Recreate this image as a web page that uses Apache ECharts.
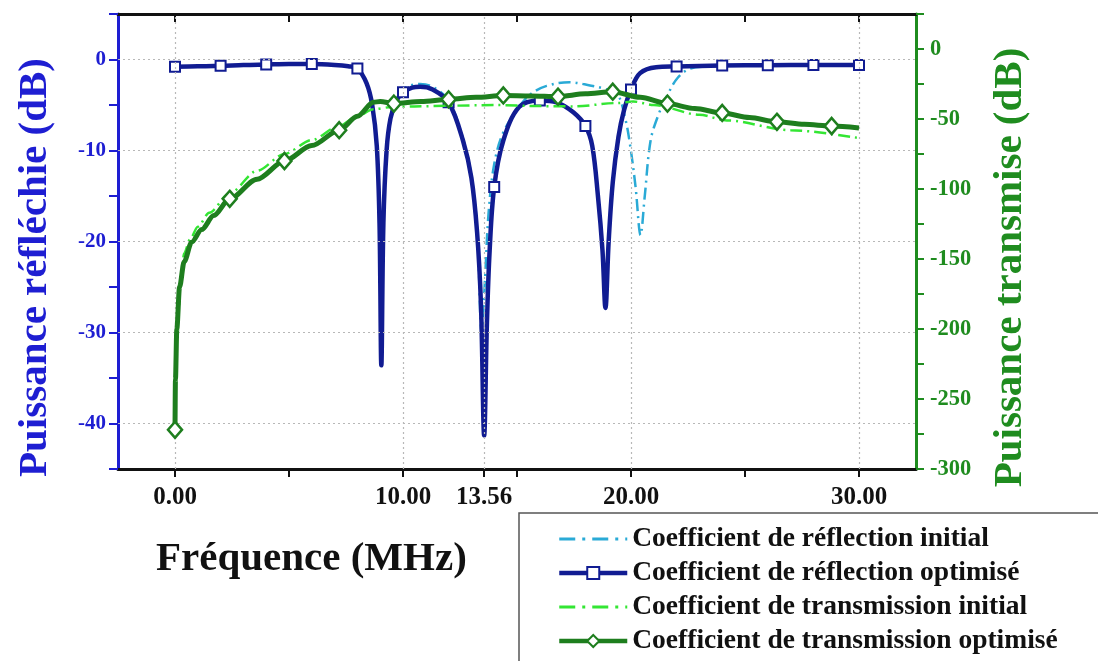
<!DOCTYPE html>
<html>
<head>
<meta charset="utf-8">
<script src="https://cdn.jsdelivr.net/npm/echarts@6/dist/echarts.min.js"></script>
<style>
html, body { margin: 0; padding: 0; background: #fff; }
#main { width: 1098px; height: 661px; }
</style>
</head>
<body>
<div id="main"></div>
<script>
// frequency (MHz) / level (dB)
var reflInitial = [
	[0, -0.8], [1, -0.75], [2, -0.7], [3, -0.6], [4, -0.55], [5, -0.5], [6, -0.5], [7, -0.6], [7.6, -0.75],
	[8, -1.0], [8.4, -2.6], [8.65, -5], [8.85, -9.5], [8.97, -18], [9.05, -33], [9.14, -18], [9.28, -10],
	[9.45, -6.3], [9.7, -4.4], [10, -3.3], [10.4, -2.8], [10.75, -2.7], [11.3, -3.0], [12, -4.5],
	[12.63, -8.7], [13.0, -12.8], [13.25, -18.5], [13.45, -30], [13.6, -24], [13.75, -17], [14, -11.5],
	[14.4, -8.0], [15.1, -5.2], [15.6, -3.8], [16.3, -2.9], [17.3, -2.5], [18.2, -2.85], [18.8, -3.2],
	[19.4, -3.8], [19.74, -6.4], [19.96, -9.4], [20.2, -14], [20.42, -19.3], [20.6, -15.1], [20.86, -8.9],
	[21.2, -6.1], [21.6, -3.9], [22.05, -2.0], [22.6, -1.0], [23.5, -0.75], [24, -0.65], [26, -0.62],
	[28, -0.6], [30, -0.6]
];
var reflOptimized = [
	[0, -0.8], [1, -0.75], [2, -0.7], [3, -0.6], [4, -0.55], [5, -0.5], [6, -0.5], [7, -0.6], [7.6, -0.75],
	[8, -1.0], [8.4, -2.6], [8.65, -5], [8.85, -9.5], [8.97, -18], [9.05, -33.6], [9.14, -18], [9.28, -10],
	[9.45, -6.5], [9.7, -4.6], [10, -3.6], [10.4, -3.1], [10.75, -3.0], [11.3, -3.3], [12, -4.7],
	[12.63, -8.9], [13.0, -13], [13.25, -19], [13.42, -27], [13.56, -41.3], [13.68, -29], [13.8, -21],
	[14, -14], [14.4, -8.9], [15.1, -5.2], [16, -4.5], [16.74, -4.7], [17.47, -5.8], [18, -7.3], [18.3, -9.5],
	[18.55, -15], [18.75, -21], [18.88, -27.3], [19.02, -20], [19.2, -13.5], [19.45, -8.5], [19.7, -5.5],
	[20, -3.3], [20.4, -1.5], [21.1, -0.85], [22, -0.77], [24, -0.65], [26, -0.62], [28, -0.6], [30, -0.6]
];
var transInitial = [
	[0.18, -183], [0.22, -170], [0.29, -158], [0.4, -146], [0.66, -136], [1.0, -127], [1.5, -117],
	[2.4, -103], [3.6, -87], [4.8, -75], [6.0, -65], [7.2, -55], [8.0, -48], [8.7, -43], [9.5, -41.5],
	[10.5, -41], [12, -40.5], [14, -40], [16, -40.8], [17.5, -41], [19.4, -38.6], [20.1, -37.5], [21, -40],
	[23, -47], [24.2, -51], [27, -58], [30, -63.6]
];
var transOptimized = [
	[0, -272], [0.02, -236], [0.08, -200], [0.2, -170], [0.4, -152], [0.73, -138], [1.17, -129],
	[1.7, -119], [2.4, -107], [3.6, -93], [4.8, -80], [6.0, -69], [7.2, -58], [8.0, -48], [8.7, -38],
	[9.0, -37.5], [9.6, -39], [10.8, -37.5], [12.0, -36], [13.2, -34.5], [14.4, -33.2], [15.6, -33.5],
	[16.8, -34], [18.0, -32], [19.2, -30.5], [20.4, -34.5], [21.6, -39], [22.8, -42.5], [24.0, -45.7],
	[25.2, -49], [26.4, -52], [27.6, -53.8], [28.8, -55], [30.0, -56.4]
];
var reflMarks = [0, 2, 4, 6, 8, 10, 12, 14, 16, 18, 20, 22, 24, 26, 28, 30];
var transMarks = [0, 2.4, 4.8, 7.2, 9.6, 12.0, 14.4, 16.8, 19.2, 21.6, 24.0, 26.4, 28.8];

var xLabels = [0, 10, 13.56, 20, 30];
var xTicks = [0, 5, 10, 13.56, 15, 20, 25, 30];
var xTopTicks = [0, 5, 10, 15, 20, 25, 30];
var leftLabels = [0, -10, -20, -30, -40];
var leftTicks = [5, 0, -5, -10, -15, -20, -25, -30, -35, -40, -45];
var rightLabels = [0, -50, -100, -150, -200, -250, -300];
var rightTicks = [25, 0, -25, -50, -75, -100, -125, -150, -175, -200, -225, -250, -275, -300];

var names = ['Coefficient de réflection initial', 'Coefficient de réflection optimisé',
	'Coefficient de transmission initial', 'Coefficient de transmission optimisé'];

var serif = '"Liberation Serif", "Times New Roman", serif';
var navy = '#111c92';
var cyan = '#2aaad6';
var lime = '#33e633';
var dgreen = '#1e7e1e';
var axisBlue = '#1e1ed2';
var axisGreen = '#1f8c1f';
var dashDot = [12, 5, 2, 5];
var legendDash = [16, 7, 3, 7];

function withMarks(pairs, marks) {
	return pairs.map(function(p) {
		if (marks.indexOf(p[0]) >= 0) return { value: p };
		return { value: p, symbol: 'none' };
	});
}

var myChart = echarts.init(document.getElementById('main'));
var option = {
	animation: false,
	title: {
		text: 'Fréquence (MHz)',
		left: 156,
		top: 539,
		padding: 0,
		textStyle: { fontFamily: serif, fontWeight: 'bold', fontSize: 41, color: '#111' }
	},
	legend: {
		data: [
			{ name: names[0], itemStyle: { opacity: 0 }, lineStyle: { width: 3, type: legendDash } },
			{ name: names[1], lineStyle: { width: 4.5 } },
			{ name: names[2], itemStyle: { opacity: 0 }, lineStyle: { width: 3, type: legendDash } },
			{ name: names[3], lineStyle: { width: 4.5 } }
		],
		orient: 'vertical',
		left: 557,
		top: 524,
		height: 160,
		itemWidth: 68,
		itemHeight: 15,
		itemGap: 4,
		itemTextGap: 6,
		padding: 0,
		z: 5,
		textStyle: { fontFamily: serif, fontWeight: 'bold', fontSize: 27.5, lineHeight: 30, color: '#111' }
	},
	graphic: [{
		type: 'rect',
		z: 0,
		shape: { x: 519, y: 513, width: 620, height: 200 },
		style: { fill: '#fff', stroke: '#555', lineWidth: 1.5 }
	}],
	grid: { left: 118, right: 182, top: 14, bottom: 192 },
	xAxis: [{
		type: 'value',
		min: -2.5,
		max: 32.5,
		position: 'bottom',
		axisLine: { onZero: false, lineStyle: { color: '#111', width: 3 } },
		axisTick: { customValues: xTicks, length: 8, lineStyle: { color: '#111', width: 2 } },
		axisLabel: {
			customValues: xLabels,
			margin: 16,
			color: '#111',
			fontFamily: serif,
			fontWeight: 'bold',
			fontSize: 25,
			formatter: function(v) { return v.toFixed(2); }
		},
		splitLine: { show: false }
	}, {
		type: 'value',
		min: -2.5,
		max: 32.5,
		position: 'top',
		axisLine: { onZero: false, lineStyle: { color: '#111', width: 3 } },
		axisTick: { customValues: xTopTicks, inside: true, length: 8, lineStyle: { color: '#111', width: 2 } },
		axisLabel: { show: false },
		splitLine: { show: false }
	}],
	yAxis: [{
		type: 'value',
		min: -45,
		max: 5,
		position: 'left',
		name: 'Puissance réfléchie (dB)',
		nameLocation: 'middle',
		nameRotate: 90,
		nameGap: 62,
		nameTextStyle: { fontFamily: serif, fontWeight: 'bold', fontSize: 41, color: axisBlue, padding: [0, 52, 0, 0] },
		axisLine: { show: true, onZero: false, lineStyle: { color: axisBlue, width: 3 } },
		axisTick: { show: true, customValues: leftTicks, length: 9, lineStyle: { color: axisBlue, width: 2 } },
		axisLabel: { customValues: leftLabels, margin: 12, color: axisBlue, fontFamily: serif, fontWeight: 'bold', fontSize: 21 },
		splitLine: { show: false }
	}, {
		type: 'value',
		min: -300,
		max: 25,
		position: 'right',
		name: 'Puissance transmise (dB)',
		nameLocation: 'middle',
		nameRotate: 90,
		nameGap: 74,
		nameTextStyle: { fontFamily: serif, fontWeight: 'bold', fontSize: 41, color: axisGreen, padding: [0, 52, 0, 0] },
		axisLine: { show: true, onZero: false, lineStyle: { color: axisGreen, width: 3 } },
		axisTick: { show: true, customValues: rightTicks, length: 8, lineStyle: { color: axisGreen, width: 2 } },
		axisLabel: { customValues: rightLabels, margin: 14, color: axisGreen, fontFamily: serif, fontWeight: 'bold', fontSize: 22.5 },
		splitLine: { show: false }
	}],
	series: [{
		name: 'grid',
		type: 'line',
		data: [],
		z: 1,
		markLine: {
			silent: true,
			symbol: 'none',
			label: { show: false },
			lineStyle: { color: '#b8b8b8', type: [2, 3], width: 1.2 },
			data: xLabels.map(function(v) { return { xAxis: v }; })
				.concat(leftLabels.map(function(v) { return { yAxis: v }; }))
		}
	}, {
		name: names[0],
		type: 'line',
		yAxisIndex: 0,
		data: reflInitial,
		symbol: 'none',
		smooth: 0.35,
		z: 2,
		lineStyle: { color: cyan, width: 2.5, type: dashDot },
		itemStyle: { color: cyan }
	}, {
		name: names[1],
		type: 'line',
		yAxisIndex: 0,
		data: withMarks(reflOptimized, reflMarks),
		symbol: 'rect',
		symbolSize: 10,
		showAllSymbol: true,
		smooth: 0.35,
		z: 3,
		lineStyle: { color: navy, width: 4.5 },
		itemStyle: { color: '#fff', borderColor: navy, borderWidth: 2 }
	}, {
		name: names[2],
		type: 'line',
		yAxisIndex: 1,
		data: transInitial,
		symbol: 'none',
		smooth: 0.3,
		smoothMonotone: 'x',
		z: 4,
		lineStyle: { color: lime, width: 2.5, type: dashDot },
		itemStyle: { color: lime }
	}, {
		name: names[3],
		type: 'line',
		yAxisIndex: 1,
		data: withMarks(transOptimized, transMarks),
		symbol: 'diamond',
		symbolSize: [14, 16],
		showAllSymbol: true,
		smooth: 0.3,
		smoothMonotone: 'x',
		z: 5,
		lineStyle: { color: dgreen, width: 5 },
		itemStyle: { color: '#fff', borderColor: dgreen, borderWidth: 2.5 }
	}]
};
myChart.setOption(option);
</script>
</body>
</html>
